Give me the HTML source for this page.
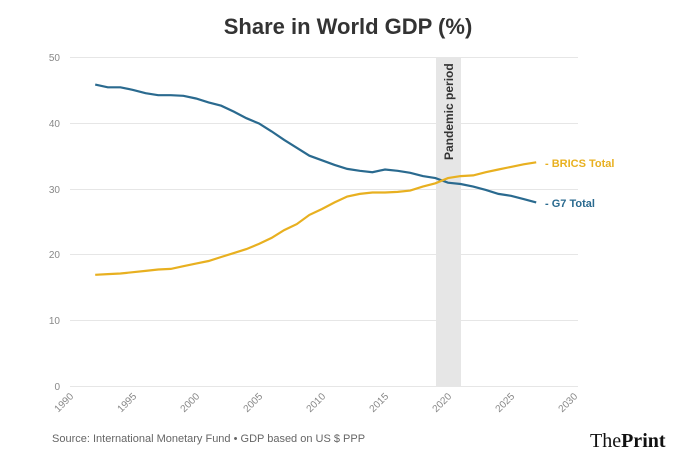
<!DOCTYPE html>
<html><head><meta charset="utf-8"><style>
body{margin:0;background:#fff;width:696px;height:464px;overflow:hidden;font-family:"Liberation Sans",sans-serif}
</style></head><body>
<svg id="s" width="696" height="464" xmlns="http://www.w3.org/2000/svg" font-family="Liberation Sans, sans-serif">
<text x="348" y="34" text-anchor="middle" font-size="22" font-weight="bold" fill="#333">Share in World GDP (%)</text>
<rect x="436" y="57" width="25" height="329" fill="#e6e6e6"/>
<g stroke="#e6e6e6" stroke-width="1">
<line x1="70" x2="578" y1="57.5" y2="57.5"/><line x1="70" x2="578" y1="123.5" y2="123.5"/>
<line x1="70" x2="578" y1="189.5" y2="189.5"/><line x1="70" x2="578" y1="254.5" y2="254.5"/>
<line x1="70" x2="578" y1="320.5" y2="320.5"/><line x1="70" x2="578" y1="386.5" y2="386.5"/>
</g>
<g font-size="10" fill="#888" text-anchor="end">
<text x="60" y="61">50</text><text x="60" y="127">40</text><text x="60" y="193">30</text>
<text x="60" y="258">20</text><text x="60" y="324">10</text><text x="60" y="390">0</text>
</g>
<g id="xl" font-size="10" fill="#888"></g>
<text transform="translate(453,160) rotate(-90)" font-size="12" font-weight="bold" fill="#333">Pandemic period</text>
<polyline id="g7" fill="none" stroke="#2a6a8f" stroke-width="2.2"/>
<polyline id="br" fill="none" stroke="#e8b020" stroke-width="2.2"/>
<text x="545" y="167" font-size="11" font-weight="bold" fill="#e8b020">- BRICS Total</text>
<text x="545" y="207" font-size="11" font-weight="bold" fill="#2a6a8f">- G7 Total</text>
<text x="52" y="442" font-size="11" fill="#666">Source: International Monetary Fund • GDP based on US $ PPP</text>
<text x="590" y="447" font-size="20" font-family="Liberation Serif, serif" fill="#111">The<tspan font-weight="bold">Print</tspan></text>
</svg>
<script>
var g=[45.8,45.4,45.4,45,44.5,44.2,44.2,44.1,43.7,43.1,42.6,41.7,40.7,39.9,38.7,37.4,36.2,35,34.3,33.6,33.0,32.7,32.5,32.9,32.7,32.4,31.9,31.6,30.9,30.7,30.3,29.8,29.2,28.9,28.4,27.9];
var b=[16.9,17,17.1,17.3,17.5,17.7,17.8,18.2,18.6,19.0,19.6,20.2,20.8,21.6,22.5,23.7,24.6,26,26.9,27.9,28.8,29.2,29.4,29.4,29.5,29.7,30.3,30.8,31.6,31.9,32,32.5,32.9,33.3,33.7,34.0];
function X(y){return 70+(y-1990)*12.6}function Y(v){return 386-v*6.58}
function pts(a){return a.map(function(v,i){return X(1992+i).toFixed(1)+","+Y(v).toFixed(1)}).join(" ")}
document.getElementById("g7").setAttribute("points",pts(g));
document.getElementById("br").setAttribute("points",pts(b));
var xl=document.getElementById("xl"),h="";
for(var y=1990;y<=2030;y+=5){var x=X(y)+4;h+='<text transform="translate('+x+',397) rotate(-45)" text-anchor="end">'+y+'</text>';}
xl.innerHTML=h;
</script>
</body></html>
